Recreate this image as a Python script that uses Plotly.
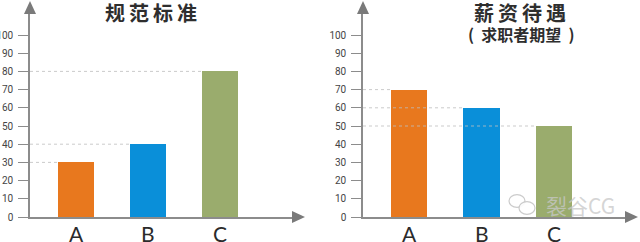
import plotly.graph_objects as go

W, H = 640, 242

categories = ["A", "B", "C"]
left_values = [30, 40, 80]
right_values = [70, 60, 50]
bar_colors = ["#E8781E", "#0A8FD9", "#9AAC6D"]
y_ticks = list(range(0, 101, 10))
left_title = "规范标准"
right_title = "薪资待遇"
right_subtitle = "(  求职者期望  )"
watermark = "裂谷CG"

def px(x):
    return x / W

def py(y):
    return 1 - y / H

def spaced(s):
    return "\u2009".join(s)

AX = "#8c8c8c"
BAR_W = 0.5

# pixel layout
y0_px, ytop_px = 217, 14
unit_px = 1.82
ymax = (y0_px - ytop_px) / unit_px

panels = [
    dict(vals=left_values, ax_px=30, xend_px=292, tip_px=305, c0=76, step=72.0,
         title=left_title, tx=151, xa="x", ya="y"),
    dict(vals=right_values, ax_px=363, xend_px=625, tip_px=638, c0=409, step=72.5,
         title=right_title, tx=520, xa="x2", ya="y2"),
]

fig = go.Figure()
shapes = []
annotations = []

for i, p in enumerate(panels):
    fig.add_trace(go.Bar(
        x=[0, 1, 2], y=p["vals"], width=BAR_W,
        marker=dict(color=bar_colors, line=dict(width=0)),
        xaxis=p["xa"], yaxis=p["ya"], showlegend=False, hoverinfo="skip",
    ))
    xr0 = (p["ax_px"] - p["c0"]) / p["step"]
    xr1 = (p["xend_px"] - p["c0"]) / p["step"]
    xkey = "xaxis" if i == 0 else "xaxis2"
    ykey = "yaxis" if i == 0 else "yaxis2"
    fig.layout[xkey] = dict(
        domain=[px(p["ax_px"]), px(p["xend_px"])], range=[xr0, xr1],
        anchor=p["ya"], showticklabels=False,
        showgrid=False, zeroline=False, showline=True, linecolor=AX, linewidth=1.5,
        ticks="", fixedrange=True, automargin=False,
    )
    fig.layout[ykey] = dict(
        domain=[py(y0_px), py(ytop_px)], range=[0, ymax], anchor=p["xa"],
        tickmode="array", tickvals=y_ticks, ticks="outside", ticklen=10,
        tickcolor=AX, tickwidth=1.2, showgrid=False, zeroline=False,
        showline=True, linecolor=AX, linewidth=1.5,
        tickfont=dict(family="Roboto, DejaVu Sans", size=10, color="#444"),
        ticklabelstandoff=3, fixedrange=True, automargin=False,
    )
    # category labels under the x axis
    for j, c in enumerate(categories):
        annotations.append(dict(
            text=c, xref=p["xa"], yref="paper", x=j, y=py(233),
            xanchor="center", yanchor="middle", showarrow=False,
            font=dict(family="Lato, DejaVu Sans", size=21, color="#2b2b2b"),
        ))
    # dotted guide lines from axis to each bar's left edge
    for j, v in enumerate(p["vals"]):
        shapes.append(dict(
            type="line", xref=p["xa"], yref=p["ya"], x0=xr0, x1=j - BAR_W / 2,
            y0=v, y1=v, line=dict(color="rgba(190,190,190,0.8)", width=1, dash="dot"),
            layer="above",
        ))
    # arrowheads
    a = p["ax_px"]
    shapes.append(dict(type="path", xref="paper", yref="paper",
                       path=f"M {px(a-6)},{py(ytop_px)} L {px(a+6)},{py(ytop_px)} L {px(a)},{py(1)} Z",
                       fillcolor="#7a7a7a", line=dict(width=0)))
    e, t = p["xend_px"], p["tip_px"]
    shapes.append(dict(type="path", xref="paper", yref="paper",
                       path=f"M {px(e)},{py(y0_px-6)} L {px(e)},{py(y0_px+6)} L {px(t)},{py(y0_px)} Z",
                       fillcolor="#7a7a7a", line=dict(width=0)))
    annotations.append(dict(
        text=spaced(p["title"]), xref="paper", yref="paper", x=px(p["tx"]), y=py(12),
        xanchor="center", yanchor="middle", showarrow=False,
        font=dict(family="Noto Sans CJK SC", size=20, color="#2e2e2e", weight="bold"),
    ))

annotations.append(dict(
    text=right_subtitle, xref="paper", yref="paper", x=px(521), y=py(33.5),
    xanchor="center", yanchor="middle", showarrow=False,
    font=dict(family="Noto Sans CJK SC", size=16, color="#2e2e2e", weight="bold"),
))

# watermark
annotations.append(dict(
    text=watermark, xref="paper", yref="paper", x=px(580), y=py(205),
    xanchor="center", yanchor="middle", showarrow=False,
    font=dict(family="Noto Sans CJK SC", size=21, color="rgba(200,200,200,0.75)"),
))
for (cx, cy, r) in [(517, 201, 8), (527, 208, 8)]:
    shapes.append(dict(type="circle", xref="paper", yref="paper",
                       x0=px(cx - r), x1=px(cx + r), y0=py(cy + r * 0.8), y1=py(cy - r * 0.8),
                       line=dict(color="rgba(190,190,190,0.8)", width=1.2),
                       fillcolor="rgba(255,255,255,0.9)"))

fig.update_layout(
    width=W, height=H, margin=dict(l=0, r=0, t=0, b=0, autoexpand=False),
    paper_bgcolor="white", plot_bgcolor="white",
    shapes=shapes, annotations=annotations, bargap=0,
)

fig.write_html("out.html", config={"displayModeBar": False})
